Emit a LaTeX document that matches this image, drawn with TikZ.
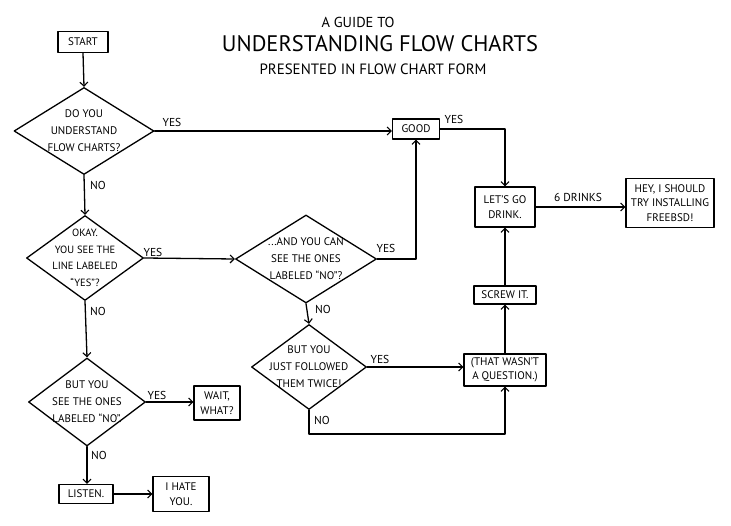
\documentclass[tikz,border=0pt]{standalone}
\usepackage{fontspec}
\setmainfont{PT Sans}
\usetikzlibrary{shapes.geometric,arrows.meta,calc}
\tikzset{
  ink/.style={line width=1.3pt, line join=round, line cap=round},
  stepbox/.style={ink, draw, rectangle, inner sep=1pt, align=center, font=\fontsize{11}{14.5}\selectfont},
  decision/.style={ink, draw, diamond, inner sep=0pt},
  dtext/.style={align=center, font=\fontsize{11}{17}\selectfont},
  lbl/.style={font=\fontsize{11.5}{13}\selectfont, inner sep=0pt},
  flow/.style={ink, -{Straight Barb[length=4pt,width=8pt,line width=1.1pt]}},
  plain/.style={ink}
}
\begin{document}
\begin{tikzpicture}[x=1pt,y=-1pt]
\useasboundingbox (0,0) rectangle (731,526);
% titles
\node (t1) at (358,22) {\resizebox{73pt}{!}{\fontsize{14}{16}\selectfont A GUIDE TO}};
\node (t2) at (380,44) {\resizebox{316pt}{!}{\fontsize{24}{28}\selectfont UNDERSTANDING FLOW CHARTS}};
\node (t3) at (373,69) {\resizebox{227pt}{!}{\fontsize{14}{16}\selectfont PRESENTED IN FLOW CHART FORM}};
% boxes
\node[stepbox, minimum width=50pt, minimum height=21pt] (start) at (83,42) {START};
\node[stepbox, minimum width=47pt, minimum height=20pt] (good) at (416,129) {GOOD};
\node[stepbox, minimum width=60pt, minimum height=40pt] (drink) at (505,207) {LET'S GO\\DRINK.};
\node[stepbox, minimum width=88pt, minimum height=49pt] (fb) at (670,203) {HEY, I SHOULD\\TRY INSTALLING\\FREEBSD!};
\node[stepbox, minimum width=62pt, minimum height=18pt] (screw) at (505,295) {SCREW IT.};
\node[stepbox, minimum width=82pt, minimum height=32pt] (q) at (505,370) {(THAT WASN'T\\A QUESTION.)};
\node[stepbox, minimum width=46pt, minimum height=34pt] (wait) at (217,403) {WAIT,\\WHAT?};
\node[stepbox, minimum width=54pt, minimum height=19pt] (listen) at (86,494) {LISTEN.};
\node[stepbox, minimum width=56pt, minimum height=35pt] (hate) at (181,494) {I HATE\\YOU.};
% decisions
\node[decision, minimum width=140pt, minimum height=87pt,
  label={[dtext]center:DO YOU\\UNDERSTAND\\FLOW CHARTS?}] (d1) at (84,131) {};
\node[decision, minimum width=117pt, minimum height=85pt,
  label={[dtext, font=\fontsize{10.5}{16.5}\selectfont]center:OKAY.\\YOU SEE THE\\LINE LABELED\\“YES”?}] (d2) at (85,258) {};
\node[decision, minimum width=141pt, minimum height=88pt,
  label={[dtext]center:...AND YOU CAN\\SEE THE ONES\\LABELED “NO”?}] (d3) at (306,259) {};
\node[decision, minimum width=115pt, minimum height=85pt,
  label={[dtext]center:BUT YOU\\JUST FOLLOWED\\THEM TWICE!}] (d4) at (309,367) {};
\node[decision, minimum width=117pt, minimum height=88pt,
  label={[dtext]center:BUT YOU\\SEE THE ONES\\LABELED “NO”.}] (d5) at (87,402) {};
% connector labels
\node[lbl] (yes1) at (172,122) {YES};
\node[lbl] (no1) at (98,185) {NO};
\node[lbl] (yes2) at (153,252) {YES};
\node[lbl] (no2) at (98,311) {NO};
\node[lbl] (yes5) at (157,395) {YES};
\node[lbl] (no5) at (99,455) {NO};
\node[lbl] (yes3) at (386,248) {YES};
\node[lbl] (no3) at (323,309) {NO};
\node[lbl] (yes4) at (380,359) {YES};
\node[lbl] (no4) at (322,420) {NO};
\node[lbl] (yesg) at (454,119) {YES};
\node[lbl] (six) at (578,197) {6 DRINKS};
% connectors
\draw[flow] (start.south) -- (d1.north);
\draw[flow] (d1.east) -- (d1.east -| good.west);
\draw[flow] (d1.south) -- (d2.north);
\draw[flow] (d2.east) -- (d3.west);
\draw[flow] (d2.south) -- (d5.north);
\draw[flow] (d5.east) -- (d5.east -| wait.west);
\draw[flow] (d5.south) -- (listen.north -| d5.south);
\draw[flow] (listen.east) -- (listen.east -| hate.west);
\draw[flow] (d3.east) -| (good.south);
\draw[flow] (d3.south) -- (d4.north);
\draw[flow] (d4.east) -- (d4.east -| q.west);
\coordinate (nocorner) at ($(d4.south)+(0,24)$);
\draw[flow] (d4.south) -- (nocorner) -| (q.south);
\draw[flow] (q.north) -- (screw.south);
\draw[flow] (screw.north) -- (drink.south);
\draw[flow] (good.east) -| (drink.north);
\draw[flow] (drink.east) -- (drink.east -| fb.west);
\end{tikzpicture}
\end{document}
